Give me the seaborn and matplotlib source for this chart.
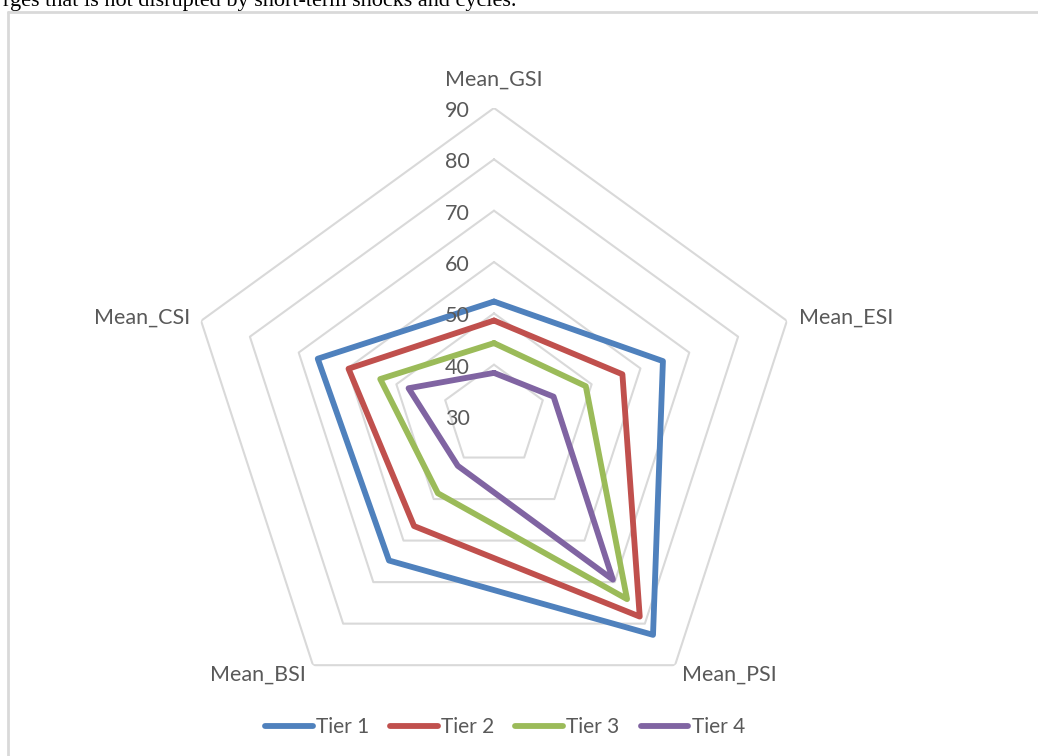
import numpy as np
import pandas as pd
import matplotlib
matplotlib.use("Agg")
import matplotlib.pyplot as plt
import seaborn as sns

# Radar chart of mean sub-indices by tier
categories = ["Mean_GSI", "Mean_ESI", "Mean_PSI", "Mean_BSI", "Mean_CSI"]
tiers = ["Tier 1", "Tier 2", "Tier 3", "Tier 4"]
tier1 = [52.3, 64.6, 82.7, 64.8, 66.1]
tier2 = [48.6, 56.3, 78.3, 56.5, 59.8]
tier3 = [44.2, 48.8, 74.1, 48.6, 53.3]
tier4 = [38.4, 42.2, 69.4, 42.0, 47.5]
ring_values = [40, 50, 60, 70, 80, 90]
tick_values = [30, 40, 50, 60, 70, 80, 90]

colors = ["#4f81bd", "#c0504d", "#9bbb59", "#8064a2"]
grid_color = "#d9d9d9"
text_color = "#595959"
label_size = 15.5

sns.set_theme(style="white")
plt.rcParams["font.family"] = ["Lato", "DejaVu Sans"]

n = len(categories)
angles = np.linspace(0, 2 * np.pi, n, endpoint=False)
closed_angles = np.append(angles, 2 * np.pi)

rows = []
for tier, vals in zip(tiers, [tier1, tier2, tier3, tier4]):
    closed_vals = list(vals) + [vals[0]]
    for order, (th, v) in enumerate(zip(closed_angles, closed_vals)):
        rows.append({"tier": tier, "theta": th, "value": v, "order": order})
df = pd.DataFrame(rows)

W, H = 1038, 756
fig = plt.figure(figsize=(W / 100, H / 100), dpi=100)

# page frame and the trailing line of body text above the chart
fig.add_artist(plt.Line2D([8 / W, 1], [1 - 12 / H, 1 - 12 / H], color=grid_color, lw=2))
fig.add_artist(plt.Line2D([8 / W, 8 / W], [0, 1 - 12 / H], color=grid_color, lw=2))
fig.text(3 / W, 1 - 6 / H, "rges that is not disrupted by short-term shocks and cycles.",
         family=["Liberation Serif", "DejaVu Serif"], fontsize=16, color="black",
         ha="left", va="baseline")

cx, cy, R = 494, 416, 308
ax = fig.add_axes([(cx - R) / W, (H - cy - R) / H, 2 * R / W, 2 * R / H], projection="polar")
ax.set_theta_zero_location("N")
ax.set_theta_direction(-1)
ax.set_ylim(30, 90)
ax.grid(False)
ax.spines["polar"].set_visible(False)
ax.set_xticks([])
ax.set_yticks([])
ax.set_facecolor("none")

# pentagonal gridlines
for rv in ring_values:
    ax.plot(closed_angles, [rv] * (n + 1), color=grid_color, lw=1.5, zorder=1,
            solid_joinstyle="miter")

sns.lineplot(data=df, x="theta", y="value", hue="tier", hue_order=tiers,
             palette=colors, sort=False, estimator=None, units="tier",
             lw=4.2, ax=ax, legend=False, zorder=3)
for line in ax.get_lines():
    line.set_solid_joinstyle("round")
    line.set_solid_capstyle("round")
ax.set_xlabel("")
ax.set_ylabel("")
ax.set_ylim(30, 90)

# radial value labels along the top axis
for tv in tick_values:
    ax.annotate(str(tv), xy=(0, tv), xytext=(-24, -3), textcoords="offset pixels",
                ha="right", va="center", fontsize=label_size, color=text_color)

# category labels at the outer vertices
label_offsets = [(0, 28, "center", "center"),
                 (12, 3, "left", "center"),
                 (7, -9, "left", "center"),
                 (-7, -9, "right", "center"),
                 (-11, 3, "right", "center")]
for cat, th, (dx, dy, ha, va) in zip(categories, angles, label_offsets):
    ax.annotate(cat, xy=(th, 90), xytext=(dx, dy), textcoords="offset pixels",
                ha=ha, va=va, fontsize=label_size, color=text_color, annotation_clip=False)

handles = [plt.Line2D([], [], color=c, lw=4.2, solid_capstyle="round") for c in colors]
fig.legend(handles, tiers, loc="center", bbox_to_anchor=(505 / W, 1 - 727 / H),
           ncol=4, frameon=False, fontsize=15, labelcolor=text_color,
           handlelength=2.3, handletextpad=0.15, columnspacing=1.0)

fig.savefig("out.png", dpi=100)
